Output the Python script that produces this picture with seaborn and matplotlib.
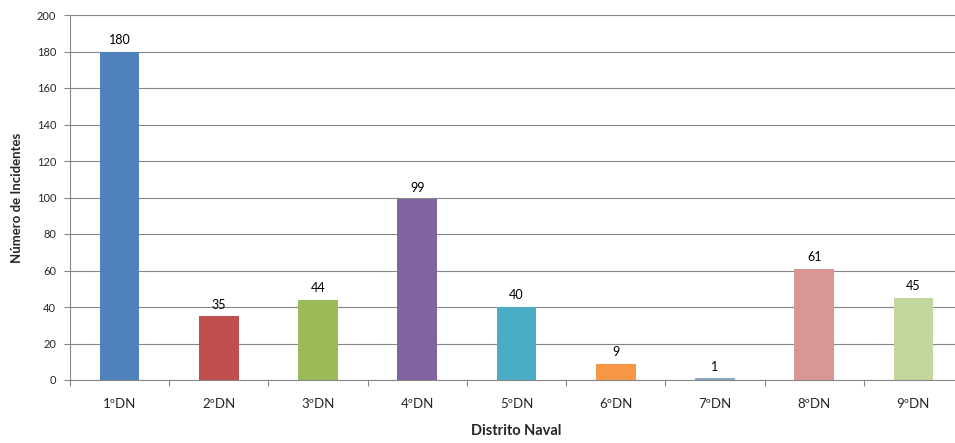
import pandas as pd
import seaborn as sns
import matplotlib.pyplot as plt

# Chart data
distritos = ["1ºDN", "2ºDN", "3ºDN", "4ºDN", "5ºDN", "6ºDN", "7ºDN", "8ºDN", "9ºDN"]
incidentes = [180, 35, 44, 99, 40, 9, 1, 61, 45]
cores = ["#4F81BD", "#C0504D", "#9BBB59", "#8064A2", "#4BACC6",
         "#F79646", "#8FA8CA", "#D99694", "#C3D69B"]

df = pd.DataFrame({"distrito": distritos, "incidentes": incidentes})

sns.set_theme(style="white")
plt.rcParams["font.family"] = ["Lato", "DejaVu Sans"]

fig = plt.figure(figsize=(9.55, 4.43), dpi=100)
ax = fig.add_axes([70 / 955, 1 - 380 / 443, 893 / 955, 365 / 443])

sns.barplot(data=df, x="distrito", y="incidentes", hue="distrito",
            palette=cores, width=0.4, saturation=1, legend=False,
            linewidth=0, ax=ax)

# value labels above each bar
for i, v in enumerate(incidentes):
    ax.annotate(str(v), (i, v), xytext=(0, 4), textcoords="offset points",
                ha="center", va="bottom", fontsize=9, color="#000000")

ax.set_ylim(0, 200)
ax.set_xlim(-0.5, len(distritos) - 0.5)
ax.set_yticks(range(0, 201, 20))
ax.yaxis.grid(True, color="#878787", linewidth=0.8)
ax.set_axisbelow(True)

# ticks between categories on the x axis
ax.set_xticks([i + 0.5 for i in range(-1, len(distritos))], minor=True)
ax.tick_params(axis="x", which="minor", length=4, color="#878787", width=0.8,
               direction="out", bottom=True)
ax.tick_params(axis="x", which="major", length=0, labelsize=9.5, pad=13)
ax.tick_params(axis="y", length=4, color="#878787", width=0.8, labelsize=8,
               left=True, pad=6)

for side in ["top", "right"]:
    ax.spines[side].set_visible(False)
for side in ["left", "bottom"]:
    ax.spines[side].set_color("#878787")
    ax.spines[side].set_linewidth(0.8)

ax.set_xlabel("Distrito Naval", fontsize=10.5, fontweight="bold", labelpad=10)
ax.set_ylabel("Número de Incidentes", fontsize=9.5, fontweight="bold", labelpad=10)

fig.savefig("out.png", dpi=100)
